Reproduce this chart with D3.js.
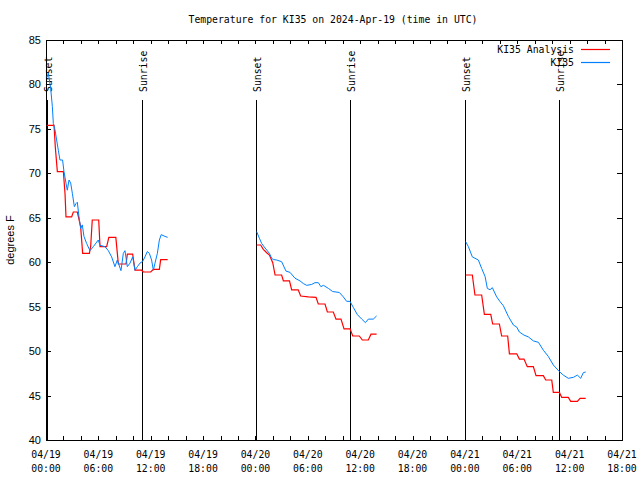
<!DOCTYPE html>
<html><head><meta charset="utf-8">
<script src="https://cdn.jsdelivr.net/npm/d3@7"></script>
<style>
body{margin:0;background:#fff;}
svg{display:block;}
.mono{font-family:"DejaVu Sans Mono",monospace;font-size:9.8px;fill:#000;}
.sans{font-family:"Liberation Sans",Arial,sans-serif;font-size:11px;fill:#000;}
</style>
</head><body>
<svg id="c" width="640" height="480"></svg>
<script>
// Hours since 2024-04-19 00:00 UTC; null separates the three data segments
const analysisHours = [0.08,0.92,1.07,1.3,1.99,2.18,2.29,2.94,3.13,3.59,3.97,4.2,4.97,5.12,5.3,6.04,6.19,6.95,7.2,8.0,8.29,9.17,9.32,9.93,10.2,10.96,11.15,12.0,12.3,12.99,13.14,13.94,
  null,
  24.14,24.6,24.9,25.29,25.6,25.98,26.25,27.0,27.2,27.9,28.15,28.9,29.18,30.06,30.94,31.2,31.97,32.24,32.92,33.23,33.8,34.15,34.84,35.15,35.9,36.25,36.93,37.24,37.88,
  null,
  48.09,48.85,49.15,49.92,50.23,50.96,51.18,51.95,52.21,52.9,53.1,53.94,54.24,54.77,55.15,55.84,56.15,56.99,57.26,57.95,58.13,58.82,59.09,59.85,60.12,60.89,61.19,61.84];
const analysisTemps = [75.4,75.4,72.9,70.2,70.2,67.7,65.1,65.1,65.65,65.65,64.0,61.0,61.0,61.8,64.75,64.75,61.75,61.75,62.8,62.8,59.8,59.8,60.9,60.9,59.1,59.1,58.9,58.9,59.2,59.2,60.3,60.3,
  null,
  61.94,61.94,61.45,61.07,60.8,59.95,58.56,58.56,57.9,57.9,56.9,56.9,56.2,56.1,56.05,55.3,55.3,54.4,54.4,53.6,53.6,52.5,52.5,51.7,51.7,51.25,51.25,51.9,51.9,
  null,
  58.56,58.56,56.31,56.31,54.14,54.14,53.05,53.05,51.7,51.7,49.7,49.7,49.1,49.1,48.25,48.25,47.24,47.24,46.75,46.75,45.36,45.36,44.8,44.8,44.35,44.35,44.69,44.69];

const obsHours = [0.1,0.27,0.53,0.73,0.84,1.03,1.22,1.41,1.6,1.9,2.06,2.29,2.44,2.64,2.83,3.02,3.25,3.44,3.59,3.78,3.97,4.16,4.35,4.66,5.04,5.42,5.99,6.19,6.76,7.14,7.52,7.9,8.17,8.59,8.86,9.05,9.32,9.63,9.93,10.2,10.47,10.77,11.08,11.34,11.61,11.84,12.1,12.3,12.49,12.76,12.99,13.2,13.64,13.94,
  null,
  24.14,24.45,24.72,25.1,25.6,25.86,26.05,26.43,27.0,27.5,27.96,28.53,29.1,29.49,29.87,30.44,30.82,31.2,31.5,31.78,32.35,32.85,33.61,34.07,34.45,34.83,35.22,35.68,36.18,36.6,36.93,37.5,37.88,
  null,
  48.09,48.4,48.85,49.54,49.92,50.31,50.57,50.88,51.14,51.64,52.03,52.41,52.98,53.55,53.94,54.24,54.77,55.27,55.84,56.42,56.99,57.56,58.13,58.82,59.28,59.85,60.43,60.89,61.27,61.57,61.84];
const obsTemps = [80.8,81.25,79.6,77.5,75.6,74.9,73.75,72.6,71.5,71.5,70.2,68.9,68.1,69.25,68.9,67.75,66.25,66.6,66.75,65.1,63.8,64.2,62.9,62.1,61.3,61.75,62.5,61.9,61.75,61.3,60.6,59.5,60.25,59.05,61.0,61.3,59.5,59.9,60.6,59.1,59.5,59.9,60.1,60.6,61.2,61.0,60.25,59.1,59.9,61.0,62.5,63.1,62.9,62.8,
  null,
  63.44,62.7,62.1,61.6,61.0,60.44,60.3,60.25,60.06,59.0,58.86,58.2,57.9,57.6,57.4,57.5,57.7,57.7,57.25,57.4,57.06,56.7,56.6,56.1,55.6,55.6,54.9,54.1,53.6,53.2,53.6,53.6,53.95,
  null,
  62.31,61.75,60.6,60.25,59.3,58.4,57.06,56.9,57.14,56.1,55.56,55.1,53.9,52.94,52.7,52.15,51.8,51.6,51.15,50.99,50.1,49.4,48.44,47.7,47.3,46.94,47.05,47.3,46.94,47.58,47.65];

// Sun events (hours since 04/19 00:00 UTC)
const sunHours = [0.08, 10.95, 24.06, 34.87, 48.05, 58.82];
const sunLabels = ["Sunset","Sunrise","Sunset","Sunrise","Sunset","Sunrise"];

const yTicks = [40,45,50,55,60,65,70,75,80,85];
const seriesNames = ["KI35 Analysis","KI35"];
const seriesColors = ["#ff0000","#0080ff"];

const t0 = Date.UTC(2024,3,19,0);
const toDate = h => new Date(t0 + h*3600000);

const svg = d3.select("#c");
const L=46, R=622, T=40, B=440;
const x = d3.scaleUtc().domain([toDate(0), toDate(66)]).range([L,R]);
const y = d3.scaleLinear().domain([40,85]).range([B,T]);

// title
svg.append("text").attr("class","mono").attr("x",333).attr("y",23).attr("text-anchor","middle")
  .text("Temperature for KI35 on 2024-Apr-19 (time in UTC)");

// y axis label
svg.append("text").attr("class","sans").attr("transform","translate(14,240) rotate(-90)")
  .attr("text-anchor","middle").text("degrees F");

const g = svg.append("g");
// ticks
const minorTicks = d3.utcHour.every(2).range(toDate(0), toDate(66.01));
minorTicks.forEach(d=>{
  const px = Math.round(x(d))+0.5;
  g.append("line").attr("x1",px).attr("x2",px).attr("y1",B).attr("y2",B-4).attr("stroke","#000").attr("shape-rendering","crispEdges");
  g.append("line").attr("x1",px).attr("x2",px).attr("y1",T).attr("y2",T+4).attr("stroke","#000").attr("shape-rendering","crispEdges");
});
yTicks.forEach(v=>{
  const py = Math.round(y(v))+0.5;
  g.append("line").attr("x1",L).attr("x2",L+5).attr("y1",py).attr("y2",py).attr("stroke","#000").attr("shape-rendering","crispEdges");
  g.append("line").attr("x1",R).attr("x2",R-5).attr("y1",py).attr("y2",py).attr("stroke","#000").attr("shape-rendering","crispEdges");
  g.append("text").attr("class","sans").attr("x",41).attr("y",y(v)+4).attr("text-anchor","end").text(v);
});
// x labels
const fmtD = d3.utcFormat("%m/%d"), fmtH = d3.utcFormat("%H:%M");
d3.utcHour.every(6).range(toDate(0), toDate(66.01)).forEach(d=>{
  const px = x(d);
  g.append("text").attr("class","mono").attr("x",px).attr("y",458).attr("text-anchor","middle").text(fmtD(d));
  g.append("text").attr("class","mono").attr("x",px).attr("y",472).attr("text-anchor","middle").text(fmtH(d));
});

// sunrise/sunset lines
sunHours.forEach((h,i)=>{
  const px = Math.round(x(toDate(h)))+0.5;
  g.append("line").attr("x1",px).attr("x2",px).attr("y1",y(78.25)).attr("y2",B).attr("stroke","#000").attr("stroke-width",1);
  g.append("text").attr("class","mono").attr("transform",`translate(${px+4},${y(79.15)}) rotate(-90)`)
    .attr("text-anchor","start").text(sunLabels[i]);
});

// border
svg.append("rect").attr("x",L+0.5).attr("y",T+0.5).attr("width",R-L).attr("height",B-T)
  .attr("fill","none").attr("stroke","#000").attr("shape-rendering","crispEdges");

// data lines
function mkLine(hs, ts){
  const pts = hs.map((h,i)=>({h, t: ts[i]}));
  return d3.line().defined(d=>d.h!==null && d.t!==null).x(d=>x(toDate(d.h))).y(d=>y(d.t))(pts);
}
svg.append("path").attr("d",mkLine(analysisHours, analysisTemps)).attr("fill","none").attr("stroke",seriesColors[0]).attr("stroke-width",1.2);
svg.append("path").attr("d",mkLine(obsHours, obsTemps)).attr("fill","none").attr("stroke",seriesColors[1]).attr("stroke-width",1);

// legend
seriesNames.forEach((n,i)=>{
  const ly = 49 + i*13;
  svg.append("text").attr("class","mono").attr("x",574).attr("y",ly+4).attr("text-anchor","end").text(n);
  svg.append("line").attr("x1",581).attr("x2",610).attr("y1",ly+0.5).attr("y2",ly+0.5).attr("stroke",seriesColors[i]).attr("stroke-width",1.2);
});
</script>
</body></html>
